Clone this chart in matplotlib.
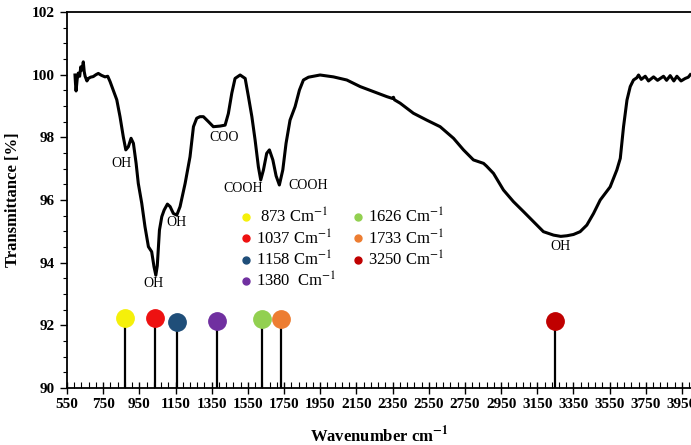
import matplotlib
matplotlib.use("Agg")
import matplotlib.pyplot as plt
import matplotlib.ticker as ticker
from matplotlib.lines import Line2D

plt.rcParams['font.family'] = ['Liberation Serif', 'DejaVu Serif']
plt.rcParams['mathtext.fontset'] = 'stix'

# FTIR spectrum, traced points (wavenumber cm-1, transmittance %)
wavenumber = [594, 597, 600, 606, 612, 620, 626, 633, 640, 645, 650, 660, 668,
              680, 695, 710, 723, 740, 760, 775, 788, 806, 825, 843, 861, 875,
              889, 904, 917, 932, 944, 963, 981, 1000, 1018, 1031, 1041, 1049,
              1061, 1074, 1087, 1105, 1120, 1138, 1157, 1175, 1203, 1230, 1249,
              1267, 1285, 1304, 1332, 1359, 1396, 1424, 1442, 1461, 1479, 1507,
              1535, 1553, 1572, 1590, 1608, 1621, 1636, 1654, 1669, 1688, 1706,
              1724, 1743, 1761, 1783, 1811, 1835, 1857, 1885, 1949, 2023, 2097,
              2171, 2244, 2318, 2350, 2355, 2360, 2392, 2465, 2539, 2613, 2687,
              2742, 2797, 2853, 2870, 2908, 2963, 3018, 3074, 3129, 3184, 3240,
              3280, 3314, 3350, 3387, 3424, 3461, 3498, 3553, 3590, 3609, 3627,
              3646, 3664, 3682, 3700, 3710, 3725, 3747, 3765, 3793, 3815, 3848,
              3865, 3885, 3905, 3922, 3945, 3968, 3985, 3996]
transmittance = [99.99, 99.70, 99.48, 99.85, 100.05, 99.95, 100.25, 100.15, 100.41,
                 100.10, 99.95, 99.80, 99.88, 99.92, 99.94, 100.00, 100.04, 99.98,
                 99.93, 99.95, 99.78, 99.50, 99.20, 98.66, 98.02, 97.60, 97.70,
                 97.97, 97.81, 97.17, 96.53, 95.90, 95.15, 94.51, 94.35, 93.87,
                 93.60, 93.90, 95.04, 95.47, 95.68, 95.87, 95.79, 95.57, 95.52,
                 95.79, 96.53, 97.38, 98.34, 98.61, 98.66, 98.66, 98.50, 98.34,
                 98.36, 98.39, 98.76, 99.41, 99.88, 99.99, 99.88, 99.30, 98.66,
                 97.91, 97.06, 96.64, 96.96, 97.49, 97.60, 97.28, 96.77, 96.48,
                 96.96, 97.81, 98.55, 98.98, 99.51, 99.83, 99.92, 99.99, 99.93,
                 99.83, 99.62, 99.46, 99.30, 99.24, 99.28, 99.20, 99.09, 98.77,
                 98.55, 98.34, 97.97, 97.60, 97.28, 97.17, 97.08, 96.85, 96.32,
                 95.95, 95.63, 95.31, 94.99, 94.88, 94.84, 94.86, 94.90, 94.99,
                 95.20, 95.57, 96.00, 96.42, 96.96, 97.33, 98.34, 99.19, 99.62,
                 99.83, 99.90, 99.99, 99.85, 99.95, 99.80, 99.93, 99.82, 99.95,
                 99.82, 99.97, 99.80, 99.95, 99.80, 99.88, 99.92, 100.00]

# marked peak positions
peaks = [873, 1037, 1158, 1380, 1626, 1733, 3250]
peak_heights = [92.25, 92.22, 92.12, 92.15, 92.2, 92.2, 92.14]
peak_colors = ['#f5f00a', '#ee1111', '#1f4e79', '#7030a0', '#92d050', '#ed7d31', '#c00000']
peak_labels = [' 873 Cm$^{-1}$', '1037 Cm$^{-1}$', '1158 Cm$^{-1}$', '1380  Cm$^{-1}$',
               '1626 Cm$^{-1}$', '1733 Cm$^{-1}$', '3250 Cm$^{-1}$']

# band assignments
band_text = ['OH', 'OH', 'OH', 'COO', 'COOH', 'COOH', 'OH']
band_x = [849, 1026, 1158, 1418, 1523, 1883, 3277]
band_y = [97.18, 93.35, 95.27, 98.0, 96.38, 96.45, 94.53]

fig = plt.figure(figsize=(6.91, 4.45), dpi=100)
ax = fig.add_axes([0.097, 0.128, 0.903, 0.845])

ax.plot(wavenumber, transmittance, color='black', lw=2.2, solid_joinstyle='round')

for x, h, c in zip(peaks, peak_heights, peak_colors):
    ax.plot([x, x], [90, h], color='black', lw=1.6, zorder=3)
    ax.plot([x], [h], marker='o', ms=12.5, color=c, mec=c, zorder=4)

for t, x, y in zip(band_text, band_x, band_y):
    ax.text(x, y, t, ha='center', va='center', fontsize=10)

handles = [Line2D([], [], ls='none', marker='o', ms=5, color=c) for c in peak_colors]
ax.legend(handles, peak_labels, ncol=2, loc='upper left', bbox_to_anchor=(0.255, 0.51),
          frameon=False, fontsize=12, handletextpad=0.1, columnspacing=0.8,
          labelspacing=0.12, handlelength=1.0, borderpad=0.2)

ax.set_xlim(550, 4000)
ax.set_ylim(90, 102)
ax.xaxis.set_major_locator(ticker.MultipleLocator(200, offset=150))
ax.xaxis.set_minor_locator(ticker.MultipleLocator(40, offset=30))
ax.yaxis.set_major_locator(ticker.MultipleLocator(2))
ax.yaxis.set_minor_locator(ticker.MultipleLocator(0.5))
ax.tick_params(axis='x', which='major', direction='inout', length=8, width=1, labelsize=11)
ax.tick_params(axis='x', which='minor', direction='in', length=4, width=0.8)
ax.tick_params(axis='y', which='major', direction='out', length=5, width=1, labelsize=11)
ax.tick_params(axis='y', which='minor', direction='out', length=3, width=0.8)
for lbl in ax.get_xticklabels() + ax.get_yticklabels():
    lbl.set_fontweight('bold')

ax.spines['right'].set_visible(False)
for s in ['left', 'top', 'bottom']:
    ax.spines[s].set_linewidth(1.3)

ax.set_ylabel('Transmittance [%]', fontsize=12, fontweight='bold', labelpad=8)
ax.set_xlabel('Wavenumber cm$^{\\mathbf{-1}}$', fontsize=12, fontweight='bold', labelpad=10)

fig.savefig('out.png', dpi=100)
